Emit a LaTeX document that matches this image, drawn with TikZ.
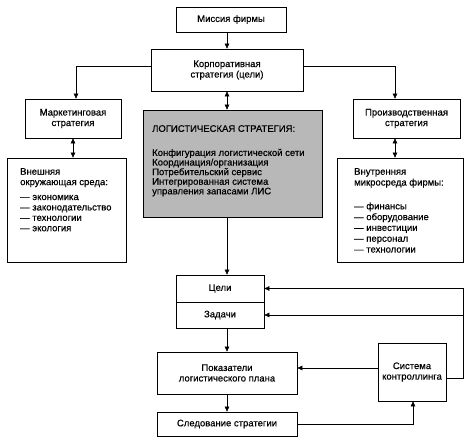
\documentclass[tikz,border=0pt]{standalone}
\usepackage{fontspec}
\setmainfont{Liberation Sans}[FakeBold=0.5]
\usetikzlibrary{arrows.meta}
\begin{document}
\begin{tikzpicture}[x=1pt,y=-1pt,
  every node/.style={font=\fontsize{9.5}{10.5}\selectfont},
  box/.style={draw=black, line width=0.7pt, inner sep=0pt, align=center},
  txt/.style={inner sep=0pt, anchor=north west, align=left},
  arr/.style={line width=0.5pt, -{Triangle[length=5pt,width=4.5pt]}},
  darr/.style={line width=0.5pt, {Triangle[length=5pt,width=4.5pt]}-{Triangle[length=5pt,width=4.5pt]}}]
\useasboundingbox (0,0) rectangle (474,446);
\coordinate (cx) at (227,0);
\coordinate (rx) at (463,0);

\node[box, minimum width=110pt, minimum height=25pt] (mission) at (231,19.5) {Миссия фирмы};
\node[box, minimum width=152pt, minimum height=42pt] (corp) at (227,70) {Корпоративная\\стратегия (цели)};
\node[box, minimum width=96pt, minimum height=39pt] (mark) at (73,118.5) {Маркетинговая\\стратегия};
\node[box, minimum width=107pt, minimum height=39pt] (prod) at (406.5,118.5) {Производственная\\стратегия};
\node[box, fill=black!28, minimum width=179pt, minimum height=107pt] (logist) at (232.5,163.5) {};
\node[box, minimum width=119pt, minimum height=104pt] (env) at (66.5,210) {};
\node[box, minimum width=126pt, minimum height=104pt] (inner) at (400,210) {};
\node[box, minimum width=88pt, minimum height=27pt] (goals) at (220,288.5) {Цели};
\node[box, minimum width=88pt, minimum height=26pt] (tasks) at (220,315) {Задачи};
\node[box, minimum width=140pt, minimum height=42pt] (pokaz) at (227,373) {Показатели\\логистического плана};
\node[box, minimum width=140pt, minimum height=24pt] (sled) at (227,424) {Следование стратегии};
\node[box, minimum width=68pt, minimum height=58pt] (sist) at (412,372) {Система\\контроллинга};

\node[txt, font=\fontsize{9.5}{9.6}\selectfont] (logtxt) at (152,125) {ЛОГИСТИЧЕСКАЯ СТРАТЕГИЯ:\\[14.5pt]Конфигурация логистической сети\\Координация/организация\\Потребительский сервис\\Интегрированная система\\управления запасами ЛИС};
\node[txt, font=\fontsize{9.5}{10.4}\selectfont] (envtxt) at (20,168) {Внешняя\\окружающая среда:\\[4.5pt]— экономика\\— законодательство\\— технологии\\— экология};
\node[txt, font=\fontsize{9.5}{10.8}\selectfont] (innertxt) at (354,168) {Внутренняя\\микросреда фирмы:\\[13pt]— финансы\\— оборудование\\— инвестиции\\— персонал\\— технологии};

\draw[arr] (mission.south -| cx) -- (corp.north -| cx);
\draw[arr] ([yshift=4pt]corp.west) -| ([xshift=3pt]mark.north);
\draw[arr] ([yshift=4pt]corp.east) -| ([xshift=-11.5pt]prod.north);
\draw[darr] (corp.south) -- (corp.south |- logist.north);
\draw[darr] (mark.south) -- (mark.south |- env.north);
\draw[darr] ([xshift=-11.5pt]prod.south) -- ([xshift=-11.5pt]prod.south |- inner.north);
\draw[arr] (logist.south -| cx) -- (goals.north -| cx);
\draw[arr] (tasks.south -| cx) -- (pokaz.north -| cx);
\draw[arr] (pokaz.south -| cx) -- (sled.north -| cx);
\draw[arr] ([yshift=4pt]sist.west) -- ([yshift=4pt]sist.west -| pokaz.east);
\draw[arr] ([yshift=-6pt]sist.east) -| (rx |- goals.east) -- (goals.east);
\draw[arr] (rx |- tasks.east) -- (tasks.east);
\draw[arr] (sled.east) -| ([xshift=1pt]sist.south);
\end{tikzpicture}
\end{document}
